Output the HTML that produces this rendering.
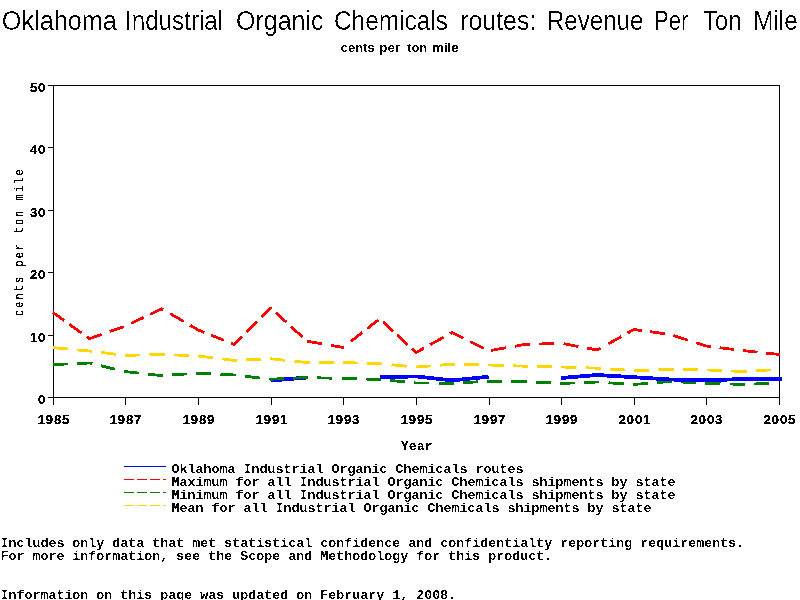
<!DOCTYPE html>
<html lang="en">
<head>
<meta charset="utf-8">
<title>Oklahoma Industrial Organic Chemicals routes: Revenue Per Ton Mile</title>
<style>
html,body{margin:0;padding:0;background:#fff;}
body{width:800px;height:600px;overflow:hidden;position:relative;}
svg{display:block;position:absolute;left:0;top:0;}
text{fill:#000;}
.title{font-family:"Liberation Sans",Arial,Helvetica,sans-serif;font-size:27px;}
.sub{font-family:"Liberation Sans",Arial,Helvetica,sans-serif;font-weight:bold;font-size:12.8px;}
.tick{font-family:"Liberation Sans",Arial,Helvetica,sans-serif;font-weight:bold;font-size:13px;letter-spacing:0.8px;stroke:#000;stroke-width:0.25px;}
.mono{font-family:"Liberation Mono","DejaVu Sans Mono",monospace;font-weight:bold;font-size:13.333px;white-space:pre;}
.ylab{font-family:"Liberation Mono","DejaVu Sans Mono",monospace;font-size:13.333px;letter-spacing:3.03px;}
.ax{stroke:#000;stroke-width:1;fill:none;shape-rendering:crispEdges;}
.ser{fill:none;stroke-width:2.8;stroke-linejoin:round;shape-rendering:crispEdges;}
.key{fill:none;stroke-width:1;shape-rendering:crispEdges;}
</style>
</head>
<body>
<svg width="800" height="600" viewBox="0 0 800 600">
<defs>
<filter id="thin" x="0" y="0" width="800" height="40" filterUnits="userSpaceOnUse" color-interpolation-filters="sRGB">
<feComponentTransfer><feFuncA type="discrete" tableValues="0 0 0 0 0 0 1 1 1 1"/></feComponentTransfer>
</filter>
<filter id="crisp" x="0" y="36" width="800" height="564" filterUnits="userSpaceOnUse" color-interpolation-filters="sRGB">
<feComponentTransfer><feFuncA type="discrete" tableValues="0 0 0 0 0 1 1 1 1 1"/></feComponentTransfer>
</filter>
<filter id="crisp2" x="0" y="150" width="40" height="190" filterUnits="userSpaceOnUse" color-interpolation-filters="sRGB">
<feComponentTransfer><feFuncA type="discrete" tableValues="0 0 0 1 1 1 1 1 1 1"/></feComponentTransfer>
</filter>
</defs>
<rect x="0" y="0" width="800" height="600" fill="#ffffff"/>

<g class="title" filter="url(#thin)">
<text x="1.77" y="30" textLength="115.05" lengthAdjust="spacingAndGlyphs">Oklahoma</text>
<text x="125.10" y="30" textLength="97.99" lengthAdjust="spacingAndGlyphs">Industrial</text>
<text x="235.98" y="30" textLength="87.54" lengthAdjust="spacingAndGlyphs">Organic</text>
<text x="333.98" y="30" textLength="114.04" lengthAdjust="spacingAndGlyphs">Chemicals</text>
<text x="460.17" y="30" textLength="76.20" lengthAdjust="spacingAndGlyphs">routes:</text>
<text x="546.93" y="30" textLength="96.62" lengthAdjust="spacingAndGlyphs">Revenue</text>
<text x="653.90" y="30" textLength="34.40" lengthAdjust="spacingAndGlyphs">Per</text>
<text x="702.90" y="30" textLength="38.60" lengthAdjust="spacingAndGlyphs">Ton</text>
<text x="753.20" y="30" textLength="44.60" lengthAdjust="spacingAndGlyphs">Mile</text>
</g>
<g class="ax">
<path d="M53.5 85.5H779.5V397.5H53.5Z"/>
<path d="M48 397.5H53"/>
<path d="M48 335.5H53"/>
<path d="M48 272.5H53"/>
<path d="M48 210.5H53"/>
<path d="M48 147.5H53"/>
<path d="M48 85.5H53"/>
<path d="M53.5 397V405"/>
<path d="M125.5 397V405"/>
<path d="M198.5 397V405"/>
<path d="M271.5 397V405"/>
<path d="M343.5 397V405"/>
<path d="M416.5 397V405"/>
<path d="M489.5 397V405"/>
<path d="M561.5 397V405"/>
<path d="M634.5 397V405"/>
<path d="M706.5 397V405"/>
<path d="M779.5 397V405"/>
</g>
<g class="ser">
<polyline stroke="#0000ff" stroke-width="3.8" points="270.8,380.5 307.1,377.5"/>
<path stroke="#ff0000" d="M52.5 312.5L53.0 312.5L64.2 320.6M69.5 324.4L81.4 333.0M86.8 336.9L89.3 338.8L101.7 334.4M109.7 331.6L123.7 326.7M131.2 323.3L143.7 317.4M150.0 314.4L161.9 308.8L163.4 309.6M170.2 313.6L183.7 321.5M190.2 325.3L198.2 330.0L204.3 332.5M211.2 335.2L224.0 340.3M230.8 343.0L234.5 344.5L242.0 336.9M246.5 332.4L257.2 321.6M261.5 317.4L270.8 308.0L271.7 308.8M275.8 312.5L286.3 322.2M290.8 326.3L302.3 336.9M307.1 341.2L322.3 343.9M331.2 345.4L343.4 347.5L343.8 347.2M351.1 341.4L362.4 332.4M367.4 328.5L378.3 319.9M383.1 321.9L393.0 331.1M397.1 334.9L407.6 344.7M412.0 348.8L416.0 352.5L424.2 348.0M430.1 344.7L443.5 337.3M450.1 333.7L452.3 332.5L463.5 338.1M470.2 341.5L484.0 348.4M490.9 350.4L506.1 347.7M515.0 346.2L524.9 344.5L530.2 344.3M539.0 344.0L554.2 343.5M563.6 343.7L578.5 346.5M587.1 348.1L597.5 350.0L600.7 348.2M608.6 343.7L621.3 336.6M627.5 333.1L633.8 329.5L641.7 330.6M650.1 331.7L664.8 333.8M673.4 335.5L688.2 340.2M696.2 342.8L706.4 346.0L711.3 346.6M719.5 347.7L734.3 349.5M743.0 350.6L757.5 352.2M766.2 353.1L779.0 354.4L779.5 354.4"/>
<path stroke="#008000" d="M53.0 364.6L68.2 363.9M77.3 363.5L89.3 363.0L92.3 363.7M100.9 365.8L115.3 369.2M124.0 371.2L125.6 371.6L138.9 373.1M147.9 374.1L161.9 375.6L163.0 375.5M172.1 374.9L187.2 373.9M196.3 373.3L198.2 373.2L211.4 373.9M220.5 374.3L234.5 375.0L235.7 375.1M244.7 376.2L259.7 378.0M268.7 379.0L270.8 379.2L283.8 378.6M293.0 378.2L307.1 377.5L308.1 377.5M317.2 377.8L332.4 378.2M341.6 378.4L343.4 378.5L356.7 378.8M365.9 379.1L379.7 379.4L381.0 379.5M390.1 380.4L405.1 381.9M414.2 382.8L416.0 383.0L429.4 383.1M438.5 383.2L452.3 383.2L453.7 383.2M462.8 382.7L477.9 381.8M487.0 381.3L488.6 381.2L502.2 381.3M511.4 381.4L524.9 381.5L526.6 381.6M535.7 382.1L550.8 382.9M559.9 383.4L561.2 383.5L575.1 382.9M584.2 382.5L597.5 382.0L599.4 382.1M608.5 382.8L623.6 383.8M632.7 384.4L633.8 384.5L647.8 383.3M656.8 382.6L670.1 381.5L672.0 381.6M681.1 382.0L696.2 382.7M705.3 383.2L706.4 383.2L720.5 383.7M729.6 384.0L742.7 384.4L744.8 384.3M753.9 384.0L769.1 383.4"/>
<path stroke="#ffd700" d="M53.0 347.6L68.1 349.0M77.1 349.9L89.3 351.0L92.2 351.3M101.2 352.4L116.1 354.3M125.1 355.3L125.6 355.4L140.3 355.0M149.5 354.7L161.9 354.4L164.6 354.5M173.7 354.9L188.9 355.6M198.0 356.0L198.2 356.0L213.0 357.8M222.0 358.9L234.5 360.5L237.0 360.4M246.1 359.9L261.3 359.2M270.4 358.8L270.8 358.8L285.4 360.3M294.5 361.2L307.1 362.5L309.5 362.5M318.7 362.5L333.9 362.5M343.0 362.5L343.4 362.5L358.2 363.0M367.3 363.3L379.7 363.8L382.4 364.0M391.5 364.8L406.6 366.2M415.6 367.0L416.0 367.0L430.8 365.9M439.8 365.2L452.3 364.2L455.0 364.3M464.1 364.5L479.3 364.8M488.4 365.0L488.6 365.0L503.6 365.5M512.7 365.8L524.9 366.2L527.9 366.3M537.0 366.5L552.2 366.8M561.3 367.0L576.5 367.5M585.6 367.8L597.5 368.2L600.8 368.5M609.9 369.0L625.0 370.0M634.1 370.5L649.3 370.1M658.5 369.8L670.1 369.5L673.6 369.5M682.8 369.7L698.0 369.9M707.1 370.0L722.3 370.6M731.4 371.0L742.7 371.4L746.6 371.2M755.7 370.7L770.8 369.9"/>
<polyline stroke="#0000ff" stroke-width="3.8" points="379.7,377.3 416.0,376.4 452.3,380.4 488.6,376.7"/>
<polyline stroke="#0000ff" stroke-width="3.8" points="561.2,378.0 597.5,375.0 633.8,377.2 670.1,379.5 706.4,380.4 742.7,379.0 779.0,378.8 781.5,378.8"/>
</g>
<g class="key">
<path d="M124 466.5H166" stroke="#0000ff"/>
<path d="M124 479.5H166" stroke="#ff0000" stroke-dasharray="10 3"/>
<path d="M124 492.5H166" stroke="#008000" stroke-dasharray="10 3"/>
<path d="M124 505.5H166" stroke="#ffd700" stroke-dasharray="10 3"/>
</g>
<g filter="url(#crisp2)"><text class="ylab" transform="translate(22.5,316) rotate(-90) scale(0.75,1)">cents per ton mile</text></g>
<g filter="url(#crisp)">
<text class="sub" x="340.77" y="52" textLength="33.88" lengthAdjust="spacingAndGlyphs">cents</text>
<text class="sub" x="379.24" y="52" textLength="20.76" lengthAdjust="spacingAndGlyphs">per</text>
<text class="sub" x="407.13" y="52" textLength="19.95" lengthAdjust="spacingAndGlyphs">ton</text>
<text class="sub" x="431.92" y="52" textLength="26.76" lengthAdjust="spacingAndGlyphs">mile</text>
<text class="tick" x="46" y="404.0" text-anchor="end">0</text>
<text class="tick" x="46" y="342.0" text-anchor="end">10</text>
<text class="tick" x="46" y="279.0" text-anchor="end">20</text>
<text class="tick" x="46" y="217.0" text-anchor="end">30</text>
<text class="tick" x="46" y="154.0" text-anchor="end">40</text>
<text class="tick" x="46" y="92.0" text-anchor="end">50</text>
<text class="tick" x="53.9" y="424" text-anchor="middle">1985</text>
<text class="tick" x="125.9" y="424" text-anchor="middle">1987</text>
<text class="tick" x="198.9" y="424" text-anchor="middle">1989</text>
<text class="tick" x="271.9" y="424" text-anchor="middle">1991</text>
<text class="tick" x="343.9" y="424" text-anchor="middle">1993</text>
<text class="tick" x="416.9" y="424" text-anchor="middle">1995</text>
<text class="tick" x="489.9" y="424" text-anchor="middle">1997</text>
<text class="tick" x="561.9" y="424" text-anchor="middle">1999</text>
<text class="tick" x="634.9" y="424" text-anchor="middle">2001</text>
<text class="tick" x="706.9" y="424" text-anchor="middle">2003</text>
<text class="tick" x="779.9" y="424" text-anchor="middle">2005</text>
<text class="mono" x="400.8" y="450">Year</text>
<text class="mono" x="171.5" y="473">Oklahoma Industrial Organic Chemicals routes</text>
<text class="mono" x="171.5" y="486">Maximum for all Industrial Organic Chemicals shipments by state</text>
<text class="mono" x="171.5" y="499">Minimum for all Industrial Organic Chemicals shipments by state</text>
<text class="mono" x="171.5" y="512">Mean for all Industrial Organic Chemicals shipments by state</text>
<text class="mono" x="0.4" y="547">Includes only data that met statistical confidence and confidentialty reporting requirements.</text>
<text class="mono" x="0.4" y="560">For more information, see the Scope and Methodology for this product.</text>
<text class="mono" x="0.4" y="599">Information on this page was updated on February 1, 2008.</text>
</g>
</svg>
</body>
</html>
